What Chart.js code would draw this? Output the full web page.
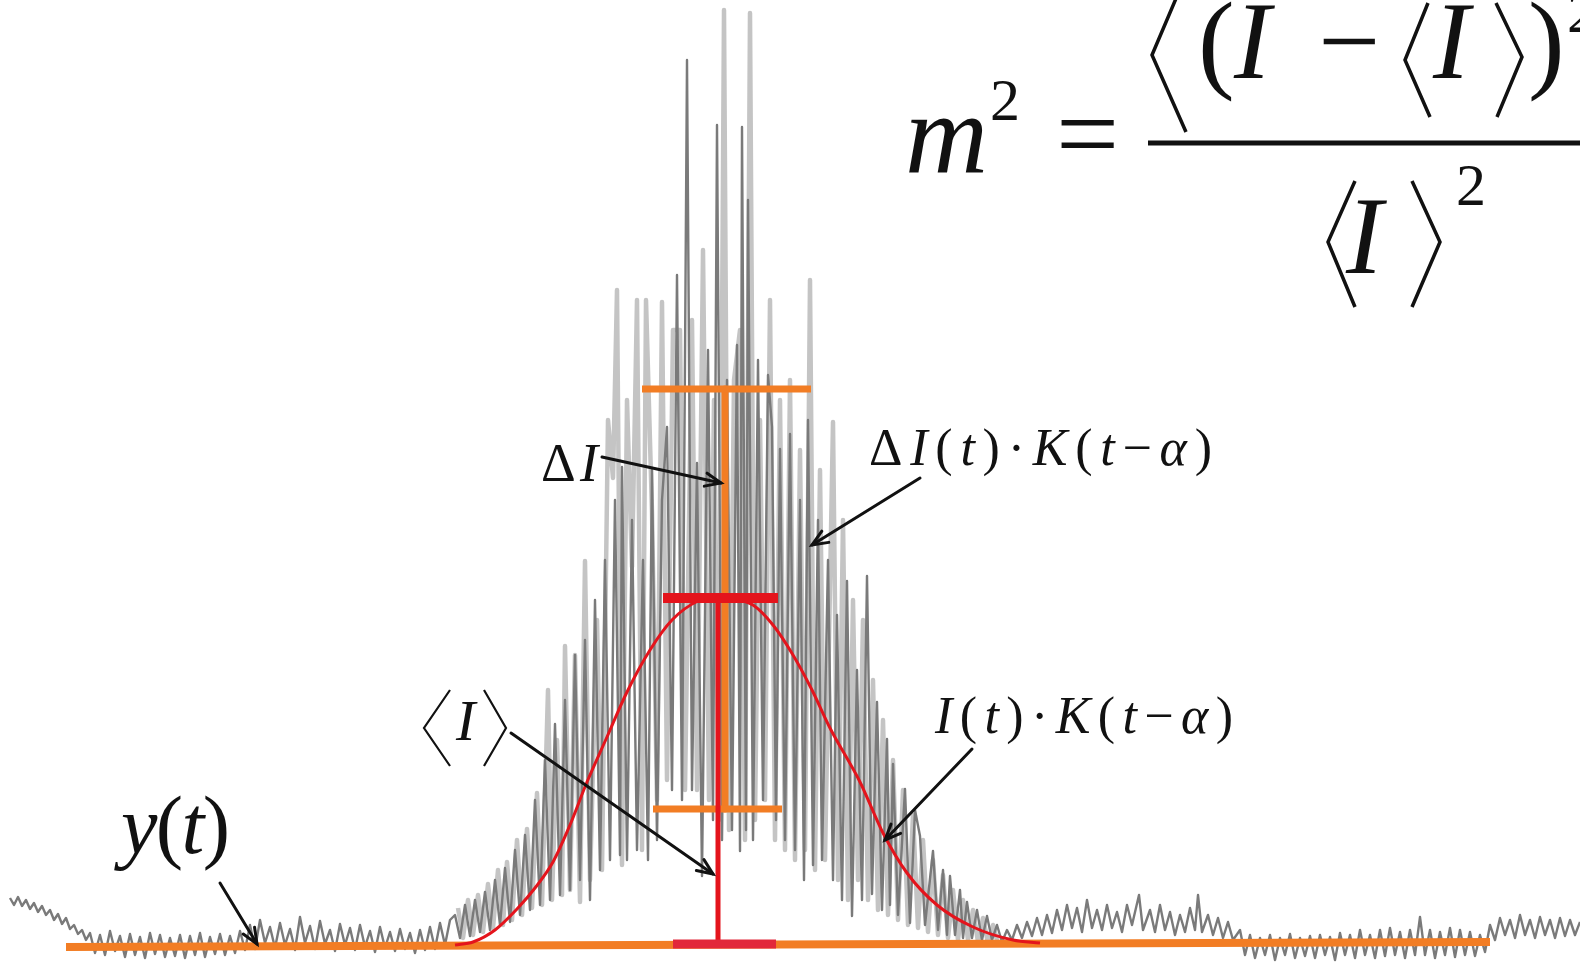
<!DOCTYPE html>
<html>
<head>
<meta charset="utf-8">
<script src="https://cdn.jsdelivr.net/npm/chart.js@4.4.1/dist/chart.umd.min.js"></script>
<style>
  html, body { margin: 0; padding: 0; background: #fff; }
  canvas { display: block; }
</style>
</head>
<body>
<canvas id="myChart" width="1580" height="966"></canvas>
<script>
// time t (samples) , intensity I
const signalLeft = [
  [10,102],[14,95],[18,103],[22,94],[26,100],[30,91],[34,97],[38,88],[42,94],[46,85],
  [50,90],[54,80],[58,86],[62,76],[66,82],[70,71],[74,75],[78,66],[82,70],[86,60],
  [90,67],[95,47],[100,65],[105,45],[110,69],[115,49],[120,64],[125,43],[130,66],[135,45],
  [140,63],[145,42],[150,67],[155,46],[160,65],[165,43],[170,62],[175,44],[180,65],[185,42],
  [190,64],[195,45],[200,67],[205,43],[210,63],[215,46],[220,66],[225,45],[230,64],[235,47],
  [240,69],[245,50],[250,75],[255,51],[260,80],[265,57],[270,73],[275,52],[280,77],[285,55],
  [290,71],[295,50],[300,83],[305,57],[310,74],[315,51],[320,79],[325,56],[330,70],[335,49],
  [340,76],[345,55],[350,72],[355,50],[360,75],[365,53],[370,69],[375,48],[380,73],[385,52],
  [390,68],[395,49],[400,71],[405,51],[410,67],[415,47],[420,70],[425,50],[430,73],[435,51],
  [440,77],[445,55],[450,80]
];
const burstDark = [
  [455,85],[460,62],[465,95],[470,64],[475,100],[480,68],[485,108],[490,70],[495,120],[500,75],
  [505,132],[510,78],[515,150],[520,85],[525,165],[530,90],[535,200],[540,95],[545,240],[550,100],
  [555,276],[560,105],[565,300],[570,110],[575,345],[580,120],[585,360],[590,100],[595,400],[600,130],
  [605,440],[610,140],[615,500],[620,145],[622,533],[627,140],[632,480],[637,150],[643,440],[648,140],
  [652,530],[657,160],[662,500],[667,573],[672,210],[677,725],[682,200],[687,940],[692,210],[697,537],
  [702,124],[708,650],[713,180],[717,875],[722,160],[727,620],[732,170],[737,655],[740,149],[742,873],
  [746,170],[748,800],[753,160],[758,640],[763,200],[768,625],[772,573],[776,180],[780,551],[785,160],
  [790,566],[795,150],[800,500],[804,120],[808,580],[813,135],[818,480],[822,140],[828,440],[833,120],
  [837,385],[842,100],[847,419],[852,84],[857,330],[862,100],[867,424],[872,106],[877,298],[882,90],
  [887,261],[890,95],[893,236],[898,85],[905,211],[910,77],[915,190],[920,164],[925,75],[933,149],
  [938,70],[943,130],[947,65],[950,124],[955,65],[960,110],[963,62],[967,98],[972,62],[977,90],
  [982,60],[987,84],[992,60],[997,75],[1002,58]
];
const signalRight = [
  [1007,70],[1012,60],[1017,75],[1022,62],[1027,78],[1032,64],[1037,82],[1042,65],[1047,85],[1052,67],
  [1057,90],[1062,70],[1067,95],[1072,72],[1077,92],[1082,68],[1087,100],[1092,72],[1097,90],[1102,70],
  [1107,95],[1112,72],[1117,88],[1122,68],[1127,95],[1132,75],[1139,105],[1143,70],[1150,90],[1155,68],
  [1160,95],[1165,70],[1170,88],[1175,65],[1180,85],[1185,68],[1190,92],[1195,70],[1198,105],[1202,68],
  [1208,85],[1213,65],[1218,82],[1223,62],[1228,78],[1233,60],[1240,70],[1245,45],[1250,65],[1255,42],
  [1260,62],[1265,45],[1270,65],[1275,40],[1280,62],[1285,45],[1290,66],[1295,42],[1300,62],[1305,44],
  [1310,64],[1315,42],[1320,65],[1325,45],[1330,63],[1335,40],[1340,67],[1345,45],[1350,65],[1355,42],
  [1360,70],[1365,45],[1370,65],[1375,42],[1380,70],[1385,44],[1390,72],[1395,45],[1400,68],[1405,42],
  [1410,70],[1415,45],[1420,83],[1425,45],[1430,70],[1435,42],[1440,68],[1445,45],[1450,72],[1455,43],
  [1460,70],[1465,45],[1470,68],[1475,44],[1480,65],[1485,48],[1490,75],[1495,60],[1500,82],[1505,65],
  [1510,80],[1515,62],[1520,85],[1525,65],[1530,80],[1535,62],[1540,83],[1545,65],[1550,80],[1555,62],
  [1560,82],[1565,64],[1570,80],[1575,65],[1580,78]
];
const burstLight = [
  [458,92],[463,62],[468,100],[473,65],[478,105],[483,68],[488,116],[493,72],[498,130],[503,75],
  [507,138],[512,80],[517,160],[522,85],[527,171],[532,92],[537,207],[542,95],[548,310],[552,100],
  [557,260],[562,105],[565,354],[570,110],[575,345],[580,98],[585,439],[590,120],[597,380],[602,130],
  [608,580],[613,522],[617,710],[622,135],[627,600],[632,433],[637,700],[642,150],[646,700],[652,488],
  [657,200],[662,698],[667,220],[673,670],[680,670],[685,210],[692,680],[697,210],[703,750],[709,200],
  [714,600],[719,180],[724,990],[729,170],[734,620],[740,670],[745,160],[750,987],[755,180],[760,580],
  [765,200],[770,700],[775,160],[780,600],[785,150],[790,620],[795,140],[800,550],[805,150],[810,720],
  [815,130],[820,530],[825,140],[833,578],[838,120],[843,480],[848,100],[853,400],[858,120],[863,380],
  [868,100],[873,320],[878,90],[883,280],[888,85],[893,240],[898,80],[903,210],[908,75],[913,185],
  [918,72],[923,160],[928,68],[933,140],[938,65],[943,125],[948,62],[953,110],[958,60],[963,100],
  [968,60],[973,90],[978,58],[983,82],[988,57],[993,75],[998,56]
];
// window K(t - alpha) scaled to <I>
const windowCurve = [
  [455,55],[473,58],[495,70],[517,91],[535,112],[553,138],[570,175],[587,218],[607,263],[627,308],
  [650,350],[672,380],[698,399],[718,403],[738,400],[753,395],[773,375],[793,345],[812,310],[830,272],
  [860,218],[883,167],[907,127],[937,95],[973,73],[1013,60],[1040,57]
];
const baseline = [[66,53],[1490,58]];
const alphaT = 718;          // window centre
const meanI = 402;           // <I>
const baseI = 56;
const meanBar = [663, 778];
const baseBar = [673, 776];
const deltaT = 725;
const deltaHigh = 611;       // <I> + dI
const deltaLow = 191;        // <I> - dI
const highBar = [642, 811];
const lowBar = [653, 782];

const ORANGE = "rgb(242,125,36)";
const RED = "rgb(228,20,28)";

const pts = (arr) => arr.map(([x, y]) => ({ x, y }));
const seg = (x0, y0, x1, y1) => [{ x: x0, y: y0 }, { x: x1, y: y1 }];

const lineSet = (data, color, width, order, extra) =>
  Object.assign({ data, borderColor: color, borderWidth: width, pointRadius: 0, tension: 0,
    fill: false, order, borderJoinStyle: "round", borderCapStyle: "butt" }, extra || {});

// annotations (in data units)
const arrows = [
  [602, 543, 721, 517],
  [920, 522, 812, 455],
  [511, 267, 713, 126],
  [972, 251, 885, 160],
  [220, 117, 257, 56],
];

const SERIF = '"Liberation Serif", "Times New Roman", serif';

const drawRun = (ctx, tokens, x0, x1, y, size) => {
  const fonts = tokens.map((t) => (t[1] ? "italic " : "") + size + "px " + SERIF);
  const widths = tokens.map((t, i) => { ctx.font = fonts[i]; return ctx.measureText(t[0]).width; });
  const total = widths.reduce((a, b) => a + b, 0);
  const gap = tokens.length > 1 ? (x1 - x0 - total) / (tokens.length - 1) : 0;
  let x = x0;
  tokens.forEach((t, i) => {
    ctx.font = fonts[i];
    ctx.fillText(t[0], x, y);
    x += widths[i] + gap;
  });
};

const drawAt = (ctx, text, italic, x, y, size) => {
  ctx.font = (italic ? "italic " : "") + size + "px " + SERIF;
  ctx.fillText(text, x, y);
};

const annotations = {
  id: "annotations",
  afterDatasetsDraw(chart) {
    const { ctx } = chart;
    const X = (v) => chart.scales.x.getPixelForValue(v);
    const Y = (v) => chart.scales.y.getPixelForValue(v);
    ctx.save();
    ctx.fillStyle = "#111";
    ctx.strokeStyle = "#111";
    ctx.textBaseline = "alphabetic";
    ctx.textAlign = "left";

    // arrows
    ctx.lineWidth = 3;
    ctx.lineCap = "round";
    arrows.forEach(([a, b, c, d]) => {
      const x0 = X(a), y0 = Y(b), x1 = X(c), y1 = Y(d);
      ctx.beginPath();
      ctx.moveTo(x0, y0);
      ctx.lineTo(x1, y1);
      ctx.stroke();
      const ang = Math.atan2(y1 - y0, x1 - x0);
      ctx.beginPath();
      ctx.moveTo(x1 - 17 * Math.cos(ang - 0.4), y1 - 17 * Math.sin(ang - 0.4));
      ctx.lineTo(x1, y1);
      ctx.lineTo(x1 - 17 * Math.cos(ang + 0.4), y1 - 17 * Math.sin(ang + 0.4));
      ctx.stroke();
    });

    // labels
    drawRun(ctx, [["Δ", 0], ["I", 1]], X(541), X(598), Y(519), 54);
    drawRun(ctx, [["Δ", 0], ["I", 1], ["(", 0], ["t", 1], [")", 0], ["·", 0], ["K", 1], ["(", 0],
      ["t", 1], ["−", 0], ["α", 1], [")", 0]], X(869), X(1212), Y(535), 52);
    drawRun(ctx, [["I", 1], ["(", 0], ["t", 1], [")", 0], ["·", 0], ["K", 1], ["(", 0],
      ["t", 1], ["−", 0], ["α", 1], [")", 0]], X(935), X(1233), Y(267), 52);
    drawRun(ctx, [["y", 1], ["(", 0], ["t", 1], [")", 0]], X(121), X(230), Y(147), 82);
    drawAt(ctx, "I", true, X(456), Y(260), 58);

    const bracket = (p, w) => {
      ctx.lineWidth = w;
      ctx.lineCap = "butt";
      ctx.lineJoin = "miter";
      ctx.beginPath();
      ctx.moveTo(X(p[0]), Y(p[1]));
      ctx.lineTo(X(p[2]), Y(p[3]));
      ctx.lineTo(X(p[4]), Y(p[5]));
      ctx.stroke();
    };
    bracket([450, 310, 424, 272, 450, 234], 2.2);
    bracket([484, 310, 506, 272, 484, 234], 2.2);

    // formula m^2 = <(I - <I>)^2> / <I>^2
    drawAt(ctx, "m", true, X(905), Y(828), 115);
    drawAt(ctx, "2", false, X(990), Y(880), 60);
    drawAt(ctx, "=", false, X(1056), Y(829), 112);
    ctx.lineWidth = 5;
    ctx.beginPath();
    ctx.moveTo(X(1148), Y(857));
    ctx.lineTo(X(1580), Y(857));
    ctx.stroke();
    bracket([1186, 1025, 1152, 945, 1186, 868], 3.5);
    drawAt(ctx, "(", false, X(1198), Y(922), 110);
    drawAt(ctx, "I", true, X(1234), Y(922), 110);
    drawAt(ctx, "−", false, X(1318), Y(922), 110);
    bracket([1428, 997, 1405, 940, 1430, 883], 3.5);
    drawAt(ctx, "I", true, X(1433), Y(922), 110);
    bracket([1496, 997, 1522, 943, 1497, 883], 3.5);
    drawAt(ctx, ")", false, X(1528), Y(922), 110);
    drawAt(ctx, "2", false, X(1567), Y(968), 60);
    bracket([1355, 819, 1328, 758, 1355, 693], 3.5);
    drawAt(ctx, "I", true, X(1346), Y(727), 110);
    bracket([1412, 819, 1440, 758, 1412, 693], 3.5);
    drawAt(ctx, "2", false, X(1456), Y(795), 60);
    ctx.restore();
  },
};

const ctx = document.getElementById("myChart").getContext("2d");
const myChart = new Chart(ctx, {
  type: "line",
  data: {
    datasets: [
      lineSet(pts(burstLight), "#c4c4c4", 4.5, 20),
      lineSet(pts(signalLeft.concat(burstDark, signalRight)), "#7a7a7a", 2.4, 19),
      lineSet(pts(baseline), ORANGE, 8, 18),
      lineSet(seg(deltaT, deltaHigh, deltaT, deltaLow), ORANGE, 7, 17),
      lineSet(seg(highBar[0], deltaHigh, highBar[1], deltaHigh), ORANGE, 7, 16),
      lineSet(seg(lowBar[0], deltaLow, lowBar[1], deltaLow), ORANGE, 7, 15),
      lineSet(pts(windowCurve), RED, 3, 14, { tension: 0.4, cubicInterpolationMode: "monotone" }),
      lineSet(seg(meanBar[0], meanI, meanBar[1], meanI), RED, 10, 13),
      lineSet(seg(alphaT, meanI, alphaT, baseI), RED, 5, 12),
      lineSet(seg(baseBar[0], baseI, baseBar[1], baseI), "rgb(226,40,58)", 9, 11),
    ],
  },
  options: {
    responsive: false,
    animation: false,
    layout: { padding: 0 },
    plugins: { legend: { display: false }, tooltip: { enabled: false } },
    scales: {
      x: { type: "linear", min: 0, max: 1580, display: false },
      y: { type: "linear", min: 34, max: 1000, display: false },
    },
  },
  plugins: [annotations],
});
</script>
</body>
</html>
